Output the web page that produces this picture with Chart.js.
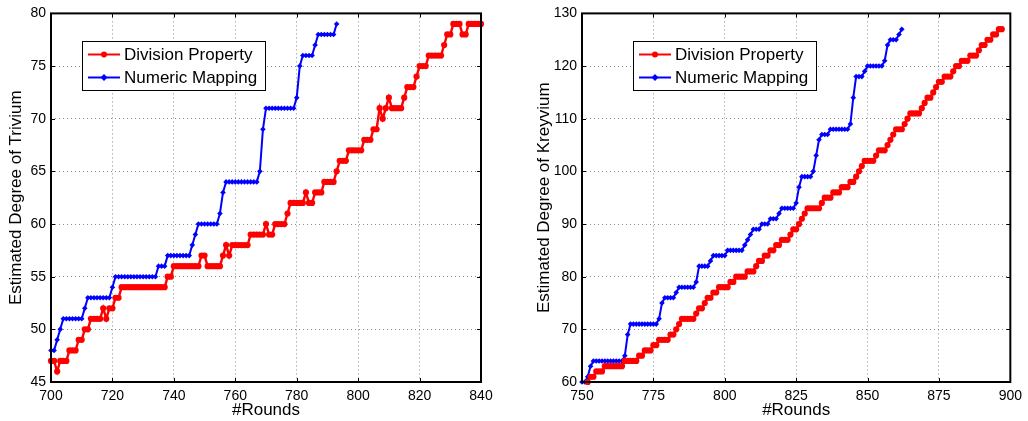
<!DOCTYPE html>
<html>
<head>
<meta charset="utf-8">
<script src="https://cdn.jsdelivr.net/npm/chart.js@4.4.1/dist/chart.umd.min.js"></script>
<style>
  html, body { margin: 0; padding: 0; background: #fff; }
  #wrap { position: relative; width: 1028px; height: 421px; overflow: hidden; }
  canvas { position: absolute; top: 0; }
</style>
</head>
<body>
<div id="wrap">
  <canvas id="triv" width="505" height="421" style="left:0"></canvas>
  <canvas id="krey" width="503" height="421" style="left:525px"></canvas>
</div>
<script>
// Trivium: one value per round, starting at trivStart
const trivStart = 700;
const trivDivision = [47,47,46,47,47,47,48,48,48,49,49,50,50,51,51,51,51,52,51,52,52,53,53,
  54,54,54,54,54,54,54,54,54,54,54,54,54,54,54,55,55,56,56,56,56,56,56,56,56,56,57,57,
  56,56,56,56,56,57,58,57,58,58,58,58,58,58,59,59,59,59,59,60,59,59,60,60,60,60,61,
  62,62,62,62,62,63,62,62,63,63,63,64,64,64,64,65,66,66,66,67,67,67,67,67,68,68,68,69,69,
  71,70,71,72,71,71,71,71,72,73,73,73,74,75,75,75,76,76,76,76,76,77,78,78,79,79,79,78,78,
  79,79,79,79,79];
const trivNumeric = [48,48,49,50,51,51,51,51,51,51,51,52,53,53,53,53,53,53,53,53,54,
  55,55,55,55,55,55,55,55,55,55,55,55,55,55,56,56,56,57,57,57,57,57,57,57,57,58,59,
  60,60,60,60,60,60,60,61,63,64,64,64,64,64,64,64,64,64,64,64,65,69,
  71,71,71,71,71,71,71,71,71,71,72,75,76,76,76,76,77,78,78,78,78,78,78,79];
const trivXTicks = [700, 720, 740, 760, 780, 800, 820, 840];
const trivYTicks = [45, 50, 55, 60, 65, 70, 75, 80];

// Kreyvium
const kreyDivStart = 752;
const kreyDivision = [60,61,61,62,62,62,63,63,63,63,63,63,63,64,64,64,64,64,65,65,66,66,66,67,67,
  68,68,68,68,69,69,70,71,72,72,72,72,72,73,74,74,75,76,76,77,77,78,78,78,78,79,79,
  80,80,80,80,81,81,81,82,83,83,84,84,85,85,86,86,87,87,87,88,89,89,90,91,92,
  93,93,93,93,93,94,95,95,95,96,96,96,97,97,97,98,98,99,100,101,102,102,102,102,103,
  104,104,104,105,106,107,108,108,108,109,110,111,111,111,111,112,113,114,114,115,116,
  117,117,118,118,118,119,120,120,121,121,121,122,122,122,123,124,124,125,125,126,126,127,127];
const kreyNumStart = 750;
const kreyNumeric = [60,60,61,63,64,64,64,64,64,64,64,64,64,64,64,65,69,
  71,71,71,71,71,71,71,71,71,71,72,75,76,76,76,76,77,78,78,78,78,78,78,79,
  82,82,82,82,83,84,84,84,84,84,85,85,85,85,85,85,86,87,88,89,89,89,90,90,90,91,91,91,92,
  93,93,93,93,93,94,97,99,99,99,99,100,103,106,107,107,107,108,108,108,108,108,108,108,109,
  114,118,118,118,119,120,120,120,120,120,120,121,124,125,125,125,126,127];
const kreyXTicks = [750, 775, 800, 825, 850, 875, 900];
const kreyYTicks = [60, 70, 80, 90, 100, 110, 120, 130];

const RED = '#ff0000';
const BLUE = '#0000ff';
const FONT = '"Liberation Sans", Arial, Helvetica, sans-serif';

function toPoints(start, vals) {
  return vals.map((v, i) => ({ x: start + i, y: v }));
}

// matlab style box with inward ticks
const frame = {
  id: 'frame',
  afterDraw(chart) {
    const { ctx, chartArea: a, scales: { x, y } } = chart;
    ctx.save();
    ctx.strokeStyle = '#000';
    ctx.lineWidth = 1;
    ctx.beginPath();
    x.ticks.forEach(t => {
      const p = Math.round(x.getPixelForValue(t.value)) + 0.5;
      ctx.moveTo(p, a.bottom); ctx.lineTo(p, a.bottom - 4);
      ctx.moveTo(p, a.top); ctx.lineTo(p, a.top + 4);
    });
    y.ticks.forEach(t => {
      const p = Math.round(y.getPixelForValue(t.value)) + 0.5;
      ctx.moveTo(a.left, p); ctx.lineTo(a.left + 4, p);
      ctx.moveTo(a.right, p); ctx.lineTo(a.right - 4, p);
    });
    ctx.stroke();
    ctx.lineWidth = 2;
    ctx.strokeRect(a.left, a.top, a.right - a.left, a.bottom - a.top);
    ctx.restore();
  }
};

// legend box drawn inside the axes
const boxLegend = {
  id: 'boxLegend',
  afterDraw(chart, args, opts) {
    const ctx = chart.ctx;
    ctx.save();
    ctx.fillStyle = '#fff';
    ctx.fillRect(opts.x, opts.y, opts.w, opts.h);
    ctx.strokeStyle = '#000';
    ctx.lineWidth = 1;
    ctx.strokeRect(opts.x + 0.5, opts.y + 0.5, opts.w, opts.h);
    ctx.font = '17px ' + FONT;
    ctx.textBaseline = 'middle';
    chart.data.datasets.forEach((ds, i) => {
      const cy = opts.y + 13.5 + i * 23;
      const x0 = opts.x + 6;
      ctx.strokeStyle = ds.borderColor;
      ctx.lineWidth = 2;
      ctx.beginPath();
      ctx.moveTo(x0, cy); ctx.lineTo(x0 + 32, cy);
      ctx.stroke();
      ctx.fillStyle = ds.borderColor;
      ctx.beginPath();
      if (ds.pointStyle === 'rectRot') {
        ctx.moveTo(x0 + 16, cy - 3.5); ctx.lineTo(x0 + 19.5, cy);
        ctx.lineTo(x0 + 16, cy + 3.5); ctx.lineTo(x0 + 12.5, cy);
      } else {
        ctx.arc(x0 + 16, cy, 3, 0, Math.PI * 2);
      }
      ctx.fill();
      ctx.fillStyle = '#000';
      ctx.fillText(ds.label, x0 + 36, cy + 1);
    });
    ctx.restore();
  }
};

function makeChart(id, cfg) {
  const tickFont = { family: FONT, size: 14 };
  const titleFont = { family: FONT, size: 17 };
  return new Chart(document.getElementById(id), {
    type: 'line',
    data: {
      datasets: [
        {
          label: 'Division Property',
          data: cfg.red,
          borderColor: RED, backgroundColor: RED,
          borderWidth: 2.4, pointStyle: 'circle', pointRadius: 3.1,
          pointBorderWidth: 0, tension: 0, clip: false
        },
        {
          label: 'Numeric Mapping',
          data: cfg.blue,
          borderColor: BLUE, backgroundColor: BLUE,
          borderWidth: 2, pointStyle: 'rectRot', pointRadius: 2.8,
          pointBorderWidth: 0, tension: 0, clip: false
        }
      ]
    },
    options: {
      responsive: false,
      animation: false,
      layout: { padding: { left: 0, right: cfg.padRight, top: 13, bottom: 0 } },
      plugins: {
        legend: { display: false },
        tooltip: { enabled: false },
        boxLegend: cfg.legend
      },
      scales: {
        x: {
          type: 'linear',
          min: cfg.xTicks[0], max: cfg.xTicks[cfg.xTicks.length - 1],
          afterBuildTicks: s => { s.ticks = cfg.xTicks.map(v => ({ value: v })); },
          afterFit: s => { s.height = 39; },
          grid: { color: '#8c8c8c', drawTicks: false, lineWidth: 1 },
          border: { display: false, dash: [1, 3] },
          ticks: { color: '#000', font: tickFont, padding: 6, maxRotation: 0 },
          title: { display: true, text: '#Rounds', color: '#000', font: titleFont, padding: { top: 0, bottom: 0 } }
        },
        y: {
          min: cfg.yTicks[0], max: cfg.yTicks[cfg.yTicks.length - 1],
          afterBuildTicks: s => { s.ticks = cfg.yTicks.map(v => ({ value: v })); },
          afterFit: s => { s.width = cfg.yWidth; },
          grid: { color: '#8c8c8c', drawTicks: false, lineWidth: 1 },
          border: { display: false, dash: [1, 3] },
          ticks: { color: '#000', font: tickFont, padding: 5 },
          title: { display: true, text: cfg.yTitle, color: '#000', font: titleFont, padding: { top: cfg.titleShift, bottom: 0 } }
        }
      }
    },
    plugins: [frame, boxLegend]
  });
}

makeChart('triv', {
  red: toPoints(trivStart, trivDivision),
  blue: toPoints(trivStart, trivNumeric),
  xTicks: trivXTicks, yTicks: trivYTicks,
  yTitle: 'Estimated Degree of Trivium',
  yWidth: 51, padRight: 24, titleShift: 6,
  legend: { x: 82, y: 41, w: 183, h: 49 }
});

makeChart('krey', {
  red: toPoints(kreyDivStart, kreyDivision),
  blue: toPoints(kreyNumStart, kreyNumeric),
  xTicks: kreyXTicks, yTicks: kreyYTicks,
  yTitle: 'Estimated Degree of Kreyvium',
  yWidth: 57, padRight: 16, titleShift: 9,
  legend: { x: 108, y: 41, w: 183, h: 49 }
});
</script>
</body>
</html>
